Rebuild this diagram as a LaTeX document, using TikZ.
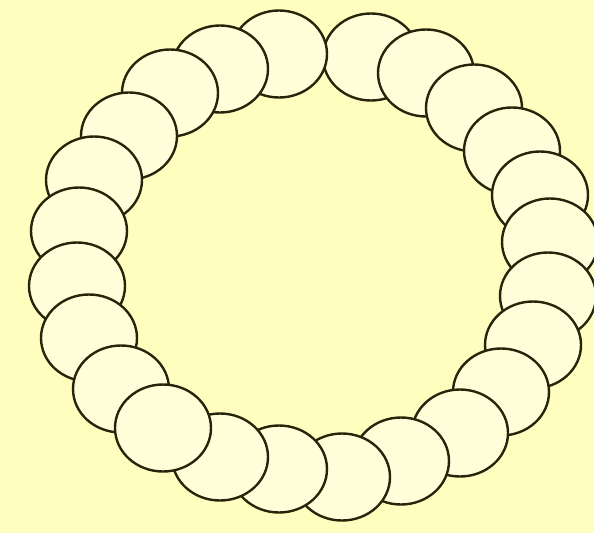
\documentclass[tikz,border=0pt]{standalone}
\usetikzlibrary{shapes.geometric}
\definecolor{bg}{RGB}{255,254,190}
\definecolor{beadfill}{RGB}{255,254,216}
\definecolor{beadline}{RGB}{38,36,10}
\tikzset{
  bead/.style={ellipse, draw=beadline, fill=beadfill, line width=2.4pt,
    minimum width=96pt, minimum height=87pt, inner sep=0pt}
}
\begin{document}
\begin{tikzpicture}[x=1pt,y=-1pt]
\fill[bg] (0,0) rectangle (594,533);
\useasboundingbox (0,0) rectangle (594,533);
% clockwise chain from the top (each one over the previous)
\node[bead] (r1) at (371,57) {};
\node[bead] (r2) at (426,73) {};
\node[bead] (r3) at (474,108) {};
\node[bead] (r4) at (512,151) {};
\node[bead] (r5) at (540,195) {};
\node[bead] (r6) at (550,242) {};
\node[bead] (r7) at (548,296) {};
\node[bead] (r8) at (533,345) {};
\node[bead] (r9) at (501,392) {};
\node[bead] (r10) at (460,433) {};
\node[bead] (r11) at (401,461) {};
\node[bead] (r12) at (342,477) {};
\node[bead] (r13) at (279,469) {};
\node[bead] (r14) at (220,457) {};
% counterclockwise chain from the top
\node[bead] (l1) at (279,54) {};
\node[bead] (l2) at (220,69) {};
\node[bead] (l3) at (170,93) {};
\node[bead] (l4) at (129,136) {};
\node[bead] (l5) at (94,180) {};
\node[bead] (l6) at (79,231) {};
\node[bead] (l7) at (77,286) {};
\node[bead] (l8) at (89,338) {};
\node[bead] (l9) at (121,389) {};
\node[bead] (l10) at (163,428) {};
\end{tikzpicture}
\end{document}
